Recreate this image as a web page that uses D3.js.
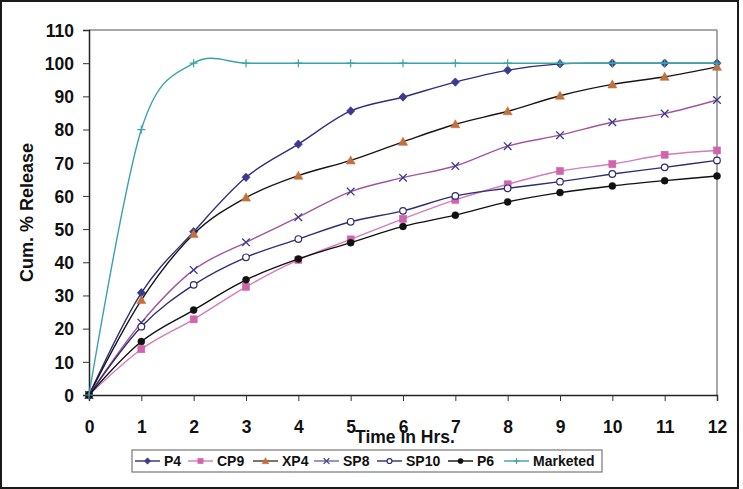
<!DOCTYPE html>
<html>
<head>
<meta charset="utf-8">
<script src="https://cdn.jsdelivr.net/npm/d3@7"></script>
<style>
  html, body { margin: 0; padding: 0; background: #fff; }
  svg { display: block; font-family: Arial, "Liberation Sans", sans-serif; }
</style>
</head>
<body>
<svg id="chart" width="743" height="489"></svg>
<script>
// ---------- data ----------
const hours    = [0, 1, 2, 3, 4, 5, 6, 7, 8, 9, 10, 11, 12];
const P4       = [0, 30.8, 49.2, 65.6, 75.6, 85.6, 89.8, 94.3, 97.9, 99.8, 100, 100, 100];
const CP9      = [0, 13.8, 22.8, 32.6, 40.7, 46.9, 53.1, 58.8, 63.5, 67.5, 69.6, 72.4, 73.7];
const XP4      = [0, 28.6, 48.5, 59.5, 66.1, 70.7, 76.3, 81.6, 85.5, 90.2, 93.6, 95.9, 98.9];
const SP8      = [0, 21.8, 37.7, 46.0, 53.6, 61.3, 65.5, 69.0, 75.0, 78.3, 82.2, 84.8, 88.9];
const SP10     = [0, 20.6, 33.2, 41.5, 47.0, 52.2, 55.5, 60.0, 62.3, 64.3, 66.6, 68.6, 70.7];
const P6       = [0, 16.1, 25.6, 34.7, 41.0, 45.9, 50.8, 54.2, 58.2, 61.0, 63.0, 64.6, 66.0];
const Marketed = [0, 80, 100, 100, 100, 100, 100, 100, 100, 100, 100, 100, 100];
const seriesNames = ["P4", "CP9", "XP4", "SP8", "SP10", "P6", "Marketed"];
const yTicks = [0, 10, 20, 30, 40, 50, 60, 70, 80, 90, 100, 110];
const xTicks = hours;
const xTitle = "Time in Hrs.";
const yTitle = "Cum. % Release";

const seriesValues = { P4, CP9, XP4, SP8, SP10, P6, Marketed };
const styles = {
  P4:       { line: "#2f2f7c", marker: "diamond", fill: "#3a3a92", stroke: "#3a3a92" },
  CP9:      { line: "#d27cbd", marker: "square",  fill: "#d065ad", stroke: "#d065ad" },
  XP4:      { line: "#1c1414", marker: "triangle",fill: "#c2703c", stroke: "#c2703c", legendLine: "#5a3028" },
  SP8:      { line: "#a2559d", marker: "x",       fill: "none",    stroke: "#3a3a8c", legendLine: "#6a6aa0" },
  SP10:     { line: "#2e2e70", marker: "circleOpen", fill: "#fff", stroke: "#2e2e70" },
  P6:       { line: "#111111", marker: "circle",  fill: "#111",    stroke: "#111" },
  Marketed: { line: "#3aa3aa", marker: "plus",    fill: "none",    stroke: "#3aa3aa" }
};

// ---------- layout ----------
const svg = d3.select("#chart");
const L = 89, R = 717, T = 30, B = 395;
const x = d3.scaleLinear().domain([0, 12]).range([L, R]);
const y = d3.scaleLinear().domain([0, 110]).range([B, T]);

// outer frame
svg.append("rect").attr("x", 1).attr("y", 1).attr("width", 737).attr("height", 487)
  .attr("fill", "#fff").attr("stroke", "#1a1a1a").attr("stroke-width", 2);

// plot border (top/right gray)
svg.append("line").attr("x1", L).attr("x2", R).attr("y1", T).attr("y2", T)
  .attr("stroke", "#8a8a8a").attr("stroke-width", 1.5);
svg.append("line").attr("x1", R).attr("x2", R).attr("y1", T).attr("y2", B)
  .attr("stroke", "#8a8a8a").attr("stroke-width", 1.5);

// axes
const yAxis = d3.axisLeft(y).tickValues(yTicks).tickSize(6).tickPadding(9).tickFormat(d3.format("d"));
const gy = svg.append("g").attr("transform", `translate(${L},0)`).call(yAxis);
const xAxis = d3.axisBottom(x).tickValues(xTicks).tickSize(6).tickPadding(20).tickFormat(d3.format("d"));
const gx = svg.append("g").attr("transform", `translate(0,${B})`).call(xAxis);
[gx, gy].forEach(g => {
  g.select(".domain").attr("stroke", "#222").attr("stroke-width", 1.5);
  g.selectAll(".tick line").attr("stroke", "#333").attr("stroke-width", 1);
  g.selectAll(".tick text").attr("fill", "#111").attr("font-size", 17.5)
    .attr("font-weight", "bold").attr("font-family", "Arial, 'Liberation Sans', sans-serif");
});
gy.selectAll(".tick text").attr("dy", "0.36em");
gx.selectAll(".tick text").attr("dy", "0.71em");

// axis titles
svg.append("text").attr("x", 405).attr("y", 443).attr("text-anchor", "middle")
  .attr("font-size", 17.5).attr("font-weight", "bold").attr("fill", "#111").text(xTitle);
svg.append("text").attr("transform", `translate(33,${(T + B) / 2 }) rotate(-90)`)
  .attr("text-anchor", "middle").attr("font-size", 18).attr("font-weight", "bold")
  .attr("fill", "#111").text(yTitle);

// ---------- series ----------
const line = d3.line().x(d => x(d[0])).y(d => y(d[1])).curve(d3.curveCardinal.tension(0));

function drawMarker(g, type, cx, cy, st, s) {
  s = s || 1;
  if (type === "diamond") {
    g.append("path").attr("d", `M${cx},${cy - 4.2 * s}L${cx + 4 * s},${cy}L${cx},${cy + 4.2 * s}L${cx - 4 * s},${cy}Z`)
      .attr("fill", st.fill).attr("stroke", st.stroke).attr("stroke-width", 0.8);
  } else if (type === "square") {
    g.append("rect").attr("x", cx - 3.5 * s).attr("y", cy - 3.5 * s).attr("width", 7 * s).attr("height", 7 * s)
      .attr("fill", st.fill).attr("stroke", st.stroke).attr("stroke-width", 0.6);
  } else if (type === "triangle") {
    g.append("path").attr("d", `M${cx},${cy - 4.5 * s}L${cx + 4.5 * s},${cy + 3.5 * s}L${cx - 4.5 * s},${cy + 3.5 * s}Z`)
      .attr("fill", st.fill).attr("stroke", st.stroke).attr("stroke-width", 0.6);
  } else if (type === "x") {
    const r = 3.8 * s;
    g.append("path").attr("d", `M${cx - r},${cy - r}L${cx + r},${cy + r}M${cx - r},${cy + r}L${cx + r},${cy - r}`)
      .attr("stroke", st.stroke).attr("stroke-width", 1.3).attr("fill", "none");
  } else if (type === "circleOpen") {
    g.append("circle").attr("cx", cx).attr("cy", cy).attr("r", 3.3 * s)
      .attr("fill", "#fff").attr("stroke", st.stroke).attr("stroke-width", 1.2);
  } else if (type === "circle") {
    g.append("circle").attr("cx", cx).attr("cy", cy).attr("r", 3.5 * s)
      .attr("fill", st.fill).attr("stroke", st.stroke).attr("stroke-width", 0.5);
  } else if (type === "plus") {
    const r = 4 * s;
    g.append("path").attr("d", `M${cx - r},${cy}L${cx + r},${cy}M${cx},${cy - r}L${cx},${cy + r}`)
      .attr("stroke", st.stroke).attr("stroke-width", 1.2).attr("fill", "none");
  }
}

const gSeries = svg.append("g");
seriesNames.forEach(name => {
  const st = styles[name];
  const pts = hours.map((h, i) => [h, seriesValues[name][i]]);
  const g = gSeries.append("g");
  g.append("path").attr("d", line(pts)).attr("fill", "none")
    .attr("stroke", st.line).attr("stroke-width", 1.4);
  pts.forEach(p => drawMarker(g, st.marker, x(p[0]), y(p[1]), st));
});

// ---------- legend ----------
const leg = svg.append("g");
leg.append("rect").attr("x", 132).attr("y", 450).attr("width", 470).attr("height", 22)
  .attr("fill", "#fff").attr("stroke", "#777").attr("stroke-width", 1.2);
const legLineX = [135, 188, 253, 314, 377, 448, 504];
const legLineW = 25;
seriesNames.forEach((name, i) => {
  const st = styles[name];
  const x0 = legLineX[i], cy = 461;
  leg.append("line").attr("x1", x0).attr("x2", x0 + legLineW).attr("y1", cy).attr("y2", cy)
    .attr("stroke", st.legendLine || st.line).attr("stroke-width", 1.4);
  drawMarker(leg, st.marker, x0 + legLineW / 2, cy, st, 0.75);
  leg.append("text").attr("x", x0 + legLineW + 4).attr("y", cy + 5)
    .attr("font-size", 14).attr("font-weight", "bold").attr("fill", "#111").text(name);
});
</script>
</body>
</html>
